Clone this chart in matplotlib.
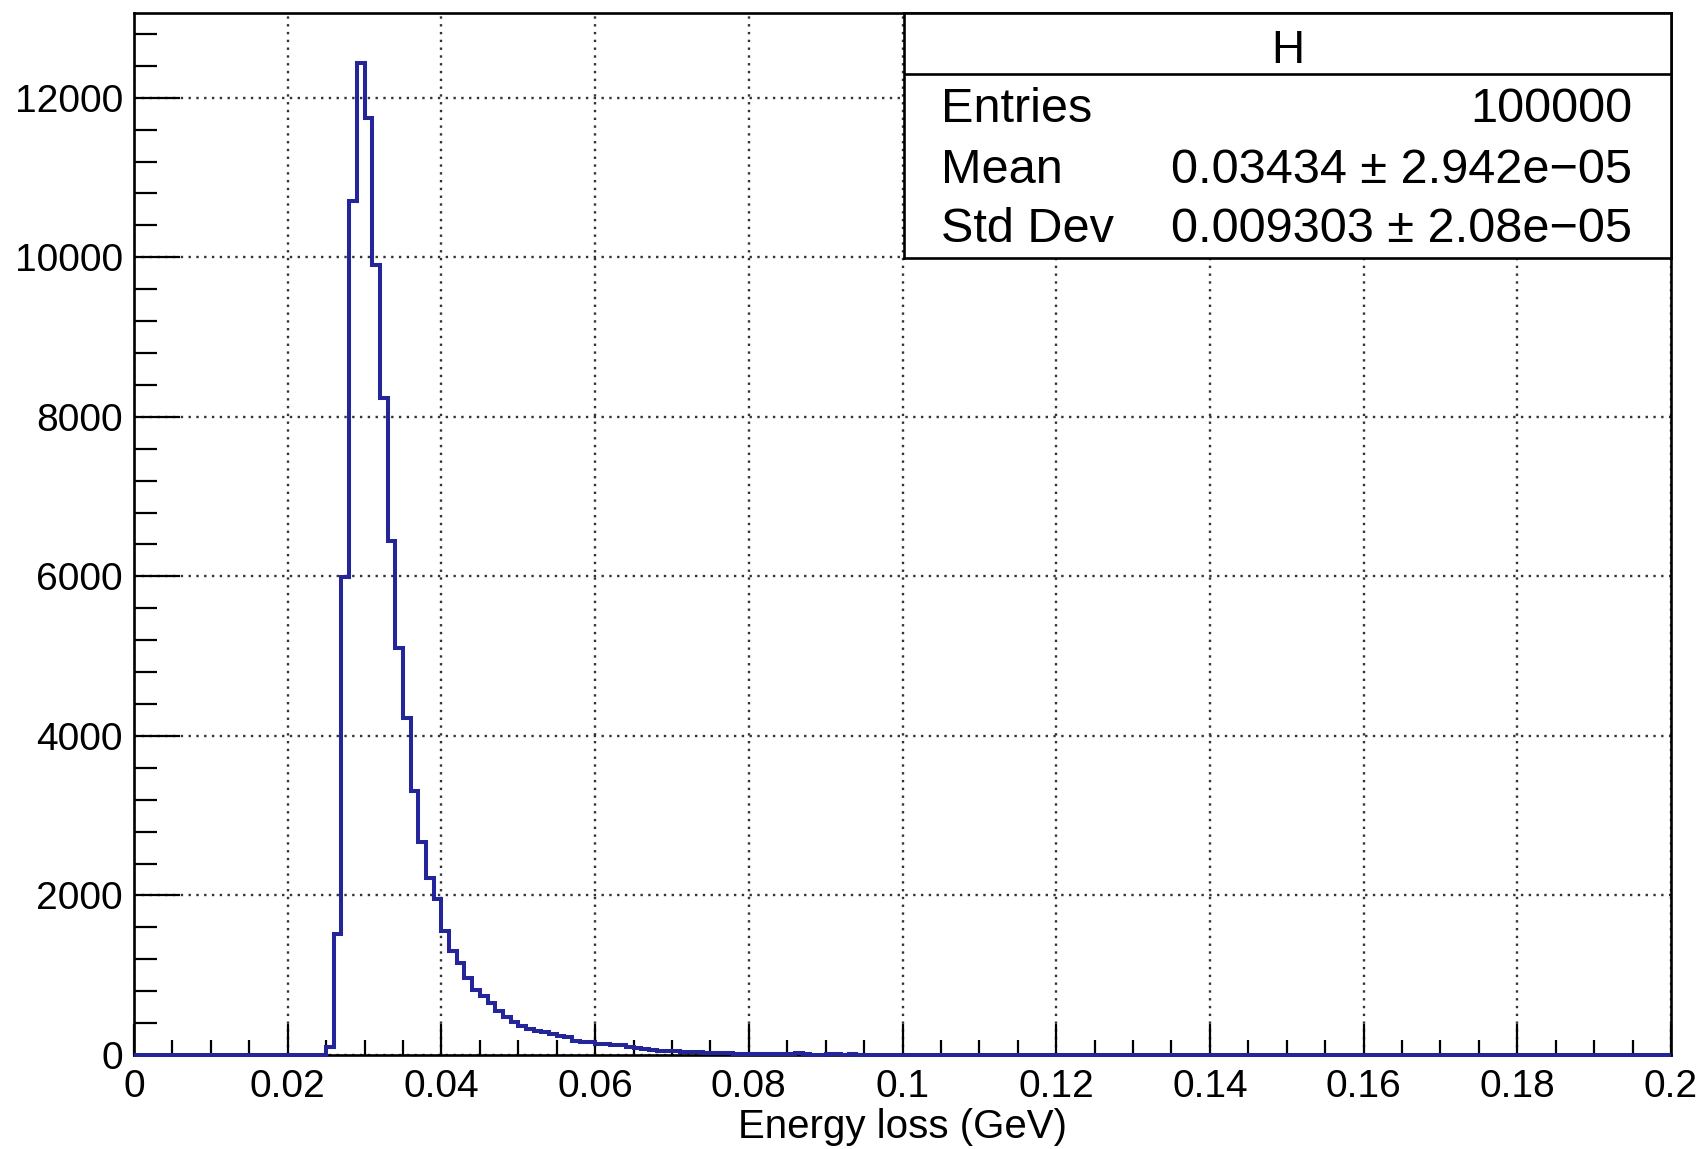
import numpy as np
import matplotlib
matplotlib.use("Agg")
import matplotlib.pyplot as plt
from matplotlib.ticker import MultipleLocator, FuncFormatter

# ---- data (bin width 0.001 GeV, histogram range 0..0.2) ----
x_min, x_max, n_bins = 0.0, 0.2, 200
first_filled_bin_low = 0.025
counts_filled = [
    100, 1520, 5990, 10710, 12440, 11750, 9900, 8240, 6440, 5100,
    4220, 3310, 2670, 2220, 1950, 1560, 1300, 1150, 970, 820,
    740, 650, 550, 480, 410, 360, 330, 300, 285, 265,
    235, 220, 175, 165, 160, 140, 135, 130, 120, 95,
    85, 78, 65, 55, 50, 45, 40, 40, 35, 30,
    30, 28, 20, 18, 15, 14, 12, 12, 10, 10,
    10, 20, 15, 5, 5, 15, 15, 5, 8, 5,
]
y_ticks = [0, 2000, 4000, 6000, 8000, 10000, 12000]
x_ticks = [0, 0.02, 0.04, 0.06, 0.08, 0.1, 0.12, 0.14, 0.16, 0.18, 0.2]
x_label = "Energy loss (GeV)"
stats_title = "H"
stats_labels = ["Entries", "Mean", "Std Dev"]
stats_values = ["100000", "0.03434 \u00b1 2.942e\u221205", "0.009303 \u00b1 2.08e\u221205"]

edges = np.linspace(x_min, x_max, n_bins + 1)
counts = np.zeros(n_bins)
start = int(round((first_filled_bin_low - x_min) / (x_max - x_min) * n_bins))
counts[start:start + len(counts_filled)] = counts_filled

plt.rcParams['font.family'] = ['Liberation Sans', 'DejaVu Sans']

W, H = 1706, 1149
fig = plt.figure(figsize=(W / 100, H / 100), dpi=100)
ax = fig.add_axes([134 / W, 1 - 1055 / H, (1671 - 134) / W, (1055 - 13) / H])

ax.stairs(counts, edges, color='#25259a', linewidth=2.9, clip_on=False, zorder=3)

ax.set_xlim(x_min, x_max)
ax.set_ylim(0, max(counts_filled) * 1.05)
ax.set_xticks(x_ticks)
ax.set_yticks(y_ticks)
ax.xaxis.set_minor_locator(MultipleLocator(0.005))
ax.yaxis.set_minor_locator(MultipleLocator(400))

def xfmt(v, pos):
    s = ("%.2f" % v).rstrip('0').rstrip('.')
    return s
ax.xaxis.set_major_formatter(FuncFormatter(xfmt))
ax.yaxis.set_major_formatter(FuncFormatter(lambda v, p: "%d" % v))

ax.tick_params(axis='y', which='major', direction='in', length=33, width=1.6,
               labelsize=28, pad=8, right=False)
ax.tick_params(axis='y', which='minor', direction='in', length=16.5, width=1.6, right=False)
ax.tick_params(axis='x', which='major', direction='in', length=22, width=1.6,
               labelsize=28, pad=10, top=False)
ax.tick_params(axis='x', which='minor', direction='in', length=11, width=1.6, top=False)

for s in ax.spines.values():
    s.set_linewidth(1.9)
    s.set_color('black')

ax.grid(True, which='major', color='#333333', linestyle=(0, (1, 2.3)), linewidth=1.7)
ax.set_axisbelow(True)

ax.set_xlabel(x_label, fontsize=29, labelpad=2)

# ---- stats box ----
bx0, bx1, by0, by1 = 904, 1671, 13, 258
sax = fig.add_axes([bx0 / W, 1 - by1 / H, (bx1 - bx0) / W, (by1 - by0) / H])
sax.set_xlim(0, 1)
sax.set_ylim(0, 1)
sax.set_xticks([])
sax.set_yticks([])
for s in sax.spines.values():
    s.set_linewidth(1.9)
    s.set_color('black')
sax.set_facecolor('white')
sax.axhline(0.751, color='black', linewidth=1.9)
sax.text(0.5, 0.796, stats_title, ha='center', va='baseline', fontsize=33)
baselines = [0.5555, 0.307, 0.0673]
for lab, val, yb in zip(stats_labels, stats_values, baselines):
    sax.text(0.048, yb, lab, ha='left', va='baseline', fontsize=35)
    sax.text(0.949, yb, val, ha='right', va='baseline', fontsize=35)

fig.savefig("out.png", dpi=100)
